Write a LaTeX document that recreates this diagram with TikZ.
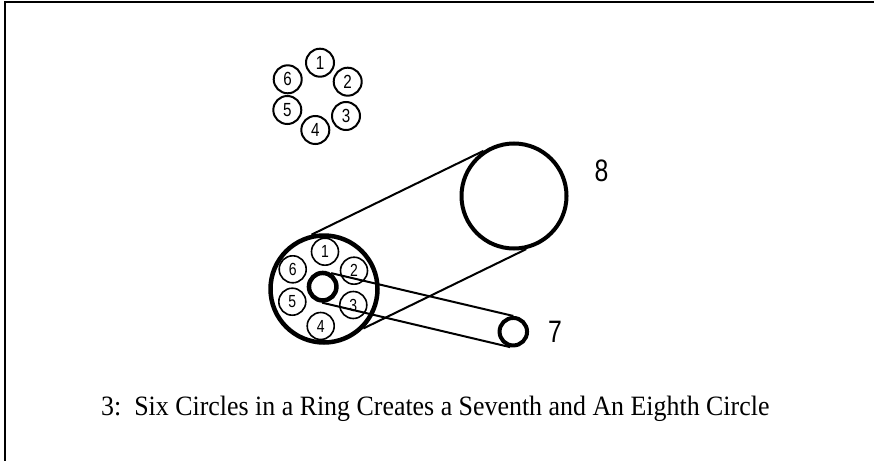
\documentclass[tikz,border=0pt]{standalone}
\usepackage{fontspec}
\setmainfont{Liberation Serif}[FakeStretch=0.925]
\newfontfamily\narrowsans[FakeStretch=0.8]{Liberation Sans}
\newcommand\digfont{\narrowsans\fontsize{19}{19}\selectfont}
\newcommand\smdigfont{\narrowsans\fontsize{17.5}{17.5}\selectfont}
\newcommand\bigdigfont{\narrowsans\fontsize{31}{31}\selectfont}
\usetikzlibrary{positioning}
\tikzset{
  kor/.style={circle,draw,line width=2pt,minimum size=28pt,inner sep=0pt,font=\digfont},
  belso/.style={kor,line width=1.6pt,minimum size=27pt,font=\smdigfont},
  vastag/.style={circle,draw,line width=4.5pt,inner sep=0pt},
  erinto/.style={line width=2pt},
  szam/.style={font=\bigdigfont},
}

\begin{document}
\begin{tikzpicture}[x=1pt,y=-1pt]
  \useasboundingbox (0,0) rectangle (874,460);
  \draw[line width=2pt] (4.5,2.5) rectangle (900,480);
  % the six circles on their own
  \node[kor] (f1) at (320,62.7) {1};
  \node[kor] (f2) at (347.7,81.7) {2};
  \node[kor] (f3) at (346,116) {3};
  \node[kor] (f4) at (315.3,130) {4};
  \node[kor] (f5) at (287.3,110) {5};
  \node[kor] (f6) at (287.7,79.3) {6};
  % the ring with the seventh circle inside
  \node[vastag,minimum size=107pt] (gyuru) at (324,289) {};
  \node[belso] (b1) at (325,251.7) {1};
  \node[belso] (b2) at (354,270.7) {2};
  \node[belso] (b3) at (353.3,305) {3};
  \node[belso] (b4) at (320.7,326) {4};
  \node[belso] (b5) at (292.3,301.7) {5};
  \node[belso] (b6) at (292.7,269.3) {6};
  \node[vastag,minimum size=27.5pt] (kozep) at (322.7,286.7) {};
  % seventh and eighth circle
  \node[vastag,line width=4pt,minimum size=105pt] (nyolc) at (514,196) {};
  \node[szam] at (601.5,170.5) {8};
  \node[vastag,line width=4pt,minimum size=27.5pt] (het) at (513.3,331.7) {};
  \node[szam] at (555,332) {7};
  \draw[erinto] (gyuru.103) -- (nyolc.124);
  \draw[erinto] (gyuru.-45) -- (nyolc.-77);
  \draw[erinto] (kozep.58) -- (het.90);
  \draw[erinto] (kozep.-92) -- (het.-101);
  \node[anchor=base west,inner sep=0pt,font=\fontsize{28}{28}\selectfont] (cim) at (101,415)
    {3:\ \ Six Circles in a Ring Creates a Seventh and An Eighth Circle};
\end{tikzpicture}
\end{document}
